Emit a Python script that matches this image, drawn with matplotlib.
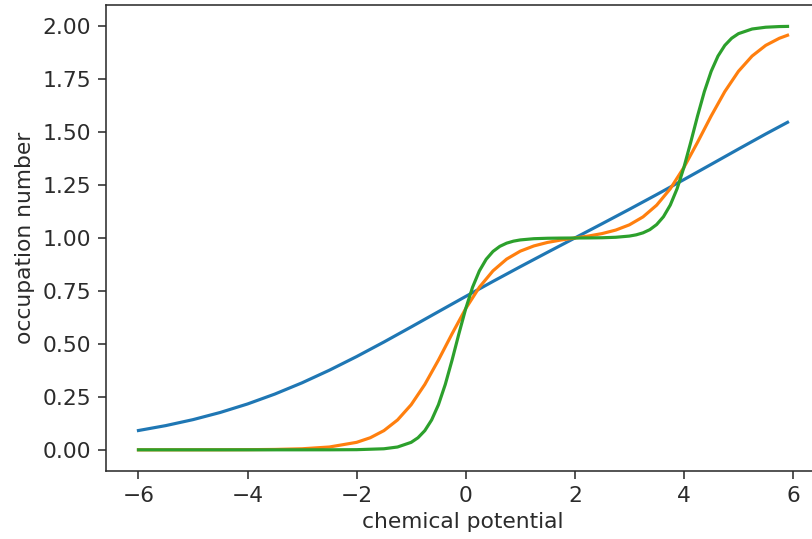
import matplotlib
matplotlib.use("Agg")
import matplotlib.pyplot as plt

# Blue curve (high temperature)
x_blue = [-6, -5.5, -5, -4.5, -4, -3.5, -3, -2.5, -2, -1.5, -1, -0.5, 0, 0.5, 1, 1.5,
          2, 2.5, 3, 3.5, 4, 4.5, 5, 5.5, 5.9]
y_blue = [0.0911, 0.1143, 0.1425, 0.1764, 0.2165, 0.2632, 0.3164, 0.3758, 0.4403, 0.5089,
          0.5801, 0.6523, 0.7242, 0.7951, 0.8645, 0.9326, 1.0, 1.0674, 1.1355, 1.2049,
          1.2758, 1.3477, 1.4199, 1.4911, 1.5462]

# Orange curve (intermediate temperature)
x_orange = [-6, -5, -4.5, -4, -3.5, -3, -2.5, -2, -1.75, -1.5, -1.25, -1, -0.75, -0.5,
            -0.25, 0, 0.25, 0.5, 0.75, 1, 1.25, 1.5, 1.75, 2, 2.25, 2.5, 2.75, 3, 3.25,
            3.5, 3.75, 4, 4.25, 4.5, 4.75, 5, 5.25, 5.5, 5.75, 5.9]
y_orange = [0.0000, 0.0001, 0.0002, 0.0007, 0.0018, 0.0049, 0.0133, 0.0353, 0.0570, 0.0906,
            0.1410, 0.2130, 0.3086, 0.4239, 0.5481, 0.6668, 0.7676, 0.8451, 0.9004, 0.9379,
            0.9626, 0.9791, 0.9907, 1.0, 1.0093, 1.0209, 1.0374, 1.0621, 1.0996, 1.1549,
            1.2324, 1.3332, 1.4519, 1.5761, 1.6914, 1.7870, 1.8590, 1.9094, 1.9430, 1.9572]

# Green curve (low temperature)
x_green = [-6, -5, -4, -3, -2.5, -2, -1.5, -1.25, -1, -0.875, -0.75, -0.625, -0.5, -0.375,
           -0.25, -0.125, 0, 0.125, 0.25, 0.375, 0.5, 0.625, 0.75, 0.875, 1, 1.25, 1.5,
           1.75, 2, 2.25, 2.5, 2.75, 3, 3.125, 3.25, 3.375, 3.5, 3.625, 3.75, 3.875, 4,
           4.125, 4.25, 4.375, 4.5, 4.625, 4.75, 4.875, 5, 5.25, 5.5, 5.75, 5.9]
y_green = [0.0, 0.0, 0.0, 0.0, 0.0001, 0.0007, 0.0049, 0.0133, 0.0353, 0.0570, 0.0906,
           0.1410, 0.2130, 0.3086, 0.4239, 0.5481, 0.6667, 0.7673, 0.8446, 0.8996, 0.9366,
           0.9606, 0.9757, 0.9851, 0.9909, 0.9967, 0.9988, 0.9996, 1.0, 1.0004, 1.0012,
           1.0034, 1.0091, 1.0149, 1.0243, 1.0394, 1.0634, 1.1004, 1.1554, 1.2327, 1.3333,
           1.4519, 1.5761, 1.6914, 1.7870, 1.8590, 1.9094, 1.9430, 1.9647, 1.9867, 1.9951,
           1.9982, 1.9990]

TXT = "#2b2b2b"
plt.rcParams.update({
    "font.size": 11,
    "text.color": TXT,
    "axes.labelcolor": TXT,
    "xtick.color": TXT,
    "ytick.color": TXT,
    "axes.edgecolor": "#2b2b2b",
    "xtick.major.size": 4,
    "ytick.major.size": 4,
})

DPI = 142
fig = plt.figure(figsize=(812 / DPI, 539 / DPI), dpi=DPI)
W, H = 812, 539
left, right, top, bottom = 106, 820, 5, 471
ax = fig.add_axes([left / W, (H - bottom) / H, (right - left) / W, (bottom - top) / H])

ax.plot(x_blue, y_blue, color="#1f77b4", lw=1.6)
ax.plot(x_orange, y_orange, color="#ff7f0e", lw=1.6)
ax.plot(x_green, y_green, color="#2ca02c", lw=1.6)

ax.set_xlim(-6.595, 6.495)
ax.set_ylim(-0.1, 2.1)
ax.set_xticks([-6, -4, -2, 0, 2, 4, 6])
ax.set_yticks([0, 0.25, 0.5, 0.75, 1.0, 1.25, 1.5, 1.75, 2.0])
ax.set_yticklabels(["0.00", "0.25", "0.50", "0.75", "1.00", "1.25", "1.50", "1.75", "2.00"])
ax.set_xticklabels(["\u22126", "\u22124", "\u22122", "0", "2", "4", "6"])
ax.set_xlabel("chemical potential", labelpad=3)
ax.set_ylabel("occupation number")

fig.savefig("out.png", dpi=DPI)
